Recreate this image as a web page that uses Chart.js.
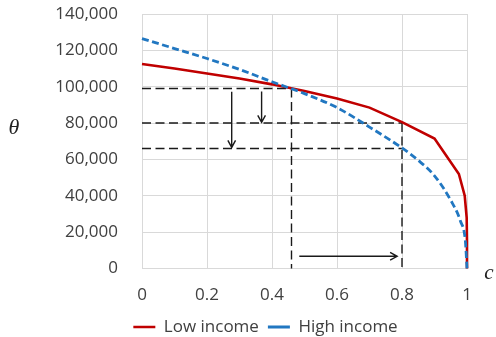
<!DOCTYPE html>
<html>
<head>
<meta charset="utf-8">
<script src="https://cdn.jsdelivr.net/npm/chart.js@4/dist/chart.umd.min.js"></script>
<style>
  html, body { margin: 0; padding: 0; background: #fff; }
  #wrap { width: 496px; height: 337px; }
</style>
</head>
<body>
<div id="wrap"><canvas id="chart" width="496" height="337"></canvas></div>
<script>
// Axis ticks
const xTickValues = [0, 0.2, 0.4, 0.6, 0.8, 1];
const yTickValues = [0, 20000, 40000, 60000, 80000, 100000, 120000, 140000];

// Low income curve: c against theta
const lowIncomeC     = [0, 0.1, 0.2, 0.3, 0.4, 0.5, 0.6, 0.7, 0.8, 0.9, 0.975, 0.993, 0.999, 1, 1];
const lowIncomeTheta = [112500, 110000, 107300, 104500, 101300, 97600, 93500, 88500, 80500, 71500, 52000, 40000, 28000, 15000, 0];

// High income curve: c against theta
const highIncomeC     = [0, 0.1, 0.2, 0.3, 0.4, 0.5, 0.6, 0.7, 0.8, 0.85, 0.9, 0.95, 0.98, 0.995, 1];
const highIncomeTheta = [126500, 121000, 115500, 109500, 102700, 96200, 88500, 77800, 66300, 59500, 51000, 37500, 26000, 15000, 0];

// Reference levels of theta and c for the dashed guides
const guideTheta = [99000, 80000, 66000];
const guideThetaEndC = [0.46, 0.8, 0.8];
const guideC = [0.46, 0.8];
const guideCTopTheta = [99000, 80000];

// Arrows: [fromC, fromTheta, toC, toTheta]
const arrows = [
  [0.276, 97200, 0.276, 66600],
  [0.368, 97400, 0.368, 80400],
  [0.484, 6700, 0.785, 6700]
];

const tickFont = { family: "'Open Sans', sans-serif", size: 17 };
const textColor = '#404040';
const gridColor = '#d9d9d9';
const plotBottom = 268.5;   // pixel row of theta = 0
const legendCenterY = 327;
const legendPad = 9;

function toPoints(xs, ys) { return xs.map((x, i) => ({ x: x, y: ys[i] })); }

const guideStyle = {
  borderColor: '#1a1a1a', borderWidth: 1.4, borderDash: [9, 4.5],
  pointRadius: 0, fill: false, clip: 4
};

const datasets = [
  {
    label: 'Low income',
    data: toPoints(lowIncomeC, lowIncomeTheta),
    borderColor: '#c00000', backgroundColor: '#c00000',
    borderWidth: 2.6, pointRadius: 0, tension: 0, clip: 4, order: 1
  },
  {
    label: 'High income',
    data: toPoints(highIncomeC, highIncomeTheta),
    borderColor: '#2177c1', backgroundColor: '#2177c1',
    borderWidth: 2.8, borderDash: [7, 3.5], pointRadius: 0,
    cubicInterpolationMode: 'monotone', clip: 4, order: 0
  }
];

guideTheta.forEach((t, i) => {
  datasets.push(Object.assign({ label: '', data: [{ x: 0, y: t }, { x: guideThetaEndC[i], y: t }], order: 2 }, guideStyle));
});
guideC.forEach((c, i) => {
  datasets.push(Object.assign({ label: '', data: [{ x: c, y: guideCTopTheta[i] }, { x: c, y: 0 }], order: 2 }, guideStyle));
});

// Arrows and the two axis symbols
const annotations = {
  id: 'annotations',
  afterLayout(chart) {
    // centre the legend under the plot and set its row height
    const lg = chart.legend;
    if (lg) {
      lg.left += 32; lg.right += 32;
      const dy = (legendCenterY - legendPad - tickFont.size / 2) - lg.top;
      lg.top += dy; lg.bottom += dy;
    }
  },
  afterDatasetsDraw(chart) {
    const { ctx, scales: { x, y } } = chart;
    ctx.save();
    ctx.strokeStyle = '#1a1a1a';
    ctx.lineWidth = 1.4;
    ctx.setLineDash([]);
    arrows.forEach(a => {
      const x0 = x.getPixelForValue(a[0]), y0 = y.getPixelForValue(a[1]);
      const x1 = x.getPixelForValue(a[2]), y1 = y.getPixelForValue(a[3]);
      const ang = Math.atan2(y1 - y0, x1 - x0);
      const len = 8, spread = 0.5;
      ctx.beginPath();
      ctx.moveTo(x0, y0); ctx.lineTo(x1, y1);
      ctx.moveTo(x1 - len * Math.cos(ang - spread), y1 - len * Math.sin(ang - spread));
      ctx.lineTo(x1, y1);
      ctx.lineTo(x1 - len * Math.cos(ang + spread), y1 - len * Math.sin(ang + spread));
      ctx.stroke();
    });
    ctx.fillStyle = '#222';
    ctx.textAlign = 'center';
    ctx.textBaseline = 'middle';
    ctx.font = "italic 22px 'Liberation Serif', serif";
    ctx.fillText('θ', 14, 128);
    ctx.font = "italic 21px 'Liberation Serif', serif";
    ctx.fillText('c', 489, 273);
    ctx.restore();
  }
};

new Chart(document.getElementById('chart'), {
  type: 'line',
  data: { datasets: datasets },
  plugins: [annotations],
  options: {
    responsive: false,
    animation: false,
    devicePixelRatio: 1,
    layout: { padding: { left: 0, right: 29, top: 14, bottom: 0 } },
    scales: {
      x: {
        type: 'linear', min: 0, max: 1,
        afterBuildTicks: s => { s.ticks = xTickValues.map(v => ({ value: v })); },
        afterFit: s => {
          const lh = s.chart.legend ? s.chart.legend.height : 0;
          s.height = s.chart.height - plotBottom - lh;
          s.paddingLeft = 0; s.paddingRight = 0;
        },
        ticks: { font: tickFont, color: textColor, padding: 16, maxRotation: 0,
                 callback: v => String(v) },
        grid: { color: gridColor, drawTicks: false },
        border: { color: gridColor }
      },
      y: {
        min: 0, max: 140000,
        afterBuildTicks: s => { s.ticks = yTickValues.map(v => ({ value: v })); },
        afterFit: s => { s.width = 142; s.paddingTop = 0; s.paddingBottom = 0; },
        ticks: { font: tickFont, color: textColor, padding: 24,
                 callback: v => v.toLocaleString('en-US') },
        grid: { color: gridColor, drawTicks: false },
        border: { color: gridColor }
      }
    },
    plugins: {
      legend: {
        position: 'bottom',
        labels: {
          filter: item => item.text !== '',
          sort: (a, b) => a.datasetIndex - b.datasetIndex,
          usePointStyle: true, pointStyle: 'line', pointStyleWidth: 22,
          font: tickFont, color: textColor, padding: legendPad
        }
      },
      tooltip: { enabled: false }
    }
  }
});
</script>
</body>
</html>
